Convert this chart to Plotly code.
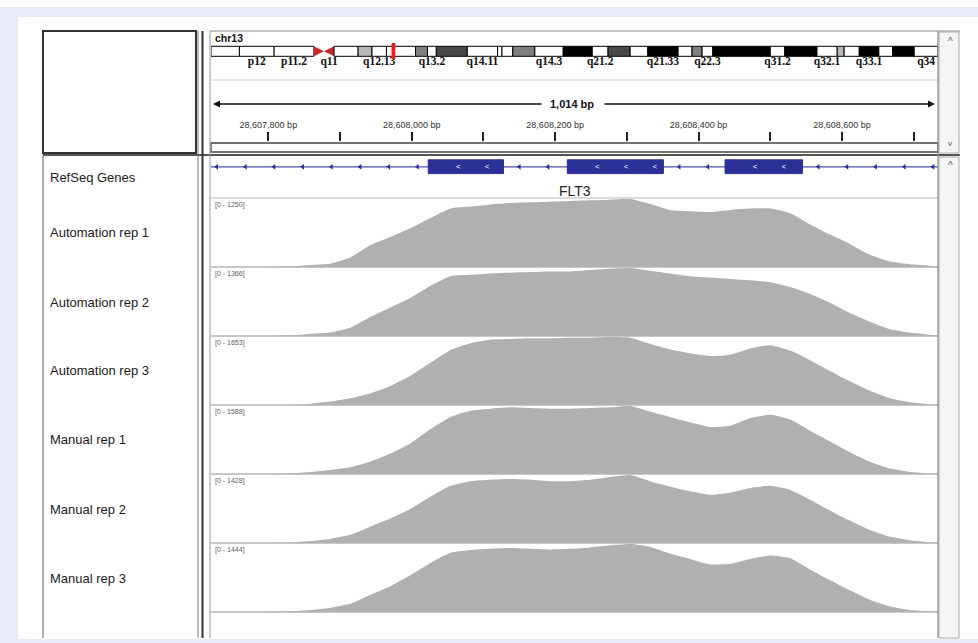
import plotly.graph_objects as go

W, H = 978, 643

# ---------------- data ----------------
chrom = "chr13"
gene_name = "FLT3"
view_start = 28607720
view_end = 28608734

band_names = ["p13", "p12", "p11.2", "p11.1", "q11", "q12.11", "q12.12", "q12.13", "q12.2", "q12.3",
              "q13.1", "q13.2", "q13.3", "q14.11", "q14.12", "q14.13", "q14.2", "q14.3", "q21.1", "q21.2",
              "q21.31", "q21.32", "q21.33", "q22.1", "q22.2", "q22.3", "q31.1", "q31.2", "q31.3", "q32.1",
              "q32.2", "q32.3", "q33.1", "q33.2", "q33.3", "q34"]
band_starts = [0.0, 4.5, 10.0, 16.3, 17.9, 19.5, 23.3, 25.5, 27.8, 28.9,
               32.4, 34.3, 35.7, 40.6, 45.4, 46.1, 47.8, 51.3, 55.8, 60.4,
               62.9, 66.4, 69.2, 74.0, 76.2, 77.8, 79.5, 88.6, 90.9, 96.0,
               99.2, 100.3, 102.7, 105.8, 108.0, 111.4]
band_ends = band_starts[1:] + [115.17]
band_stains = ["gneg", "gneg", "gneg", "acen", "acen", "gneg", "gpos25", "gneg", "gneg", "gneg",
               "gpos50", "gneg", "gpos75", "gneg", "gneg", "gneg", "gpos50", "gneg", "gpos100", "gneg",
               "gpos75", "gneg", "gpos100", "gneg", "gpos50", "gneg", "gpos100", "gneg", "gpos100", "gneg",
               "gpos25", "gneg", "gpos100", "gneg", "gpos100", "gneg"]
shown_band_labels = ["p12", "p11.2", "q11", "q12.13", "q13.2", "q14.11", "q14.3", "q21.2",
                     "q21.33", "q22.3", "q31.2", "q32.1", "q33.1", "q34"]

exon_starts = [28608023, 28608217, 28608437]
exon_ends = [28608128, 28608351, 28608545]

ruler_ticks = [28607800, 28607900, 28608000, 28608100, 28608200,
               28608300, 28608400, 28608500, 28608600, 28608700]

track_names = ["Automation rep 1", "Automation rep 2", "Automation rep 3",
               "Manual rep 1", "Manual rep 2", "Manual rep 3"]
track_max = [1250, 1366, 1653, 1588, 1428, 1444]

positions = [28607720, 28607747, 28607775, 28607803, 28607831, 28607859, 28607886, 28607914,
             28607942, 28607970, 28607998, 28608026, 28608054, 28608082, 28608110, 28608137,
             28608165, 28608193, 28608221, 28608249, 28608277, 28608305, 28608332, 28608360,
             28608388, 28608416, 28608444, 28608472, 28608500, 28608528, 28608555, 28608583,
             28608611, 28608639, 28608667, 28608695, 28608723, 28608734]

automation_rep1 = [0, 0, 0, 0, 12, 38, 62, 175, 400, 550, 712, 900, 1075, 1112, 1150, 1175,
                   1188, 1200, 1212, 1225, 1238, 1250, 1162, 1050, 1025, 1012, 1050, 1075,
                   1075, 988, 788, 600, 425, 225, 100, 50, 25, 12]
automation_rep2 = [0, 0, 0, 0, 14, 41, 68, 164, 382, 574, 765, 1011, 1202, 1229, 1257, 1270,
                   1284, 1298, 1298, 1325, 1352, 1366, 1311, 1257, 1202, 1175, 1147, 1120,
                   1079, 984, 847, 669, 464, 287, 137, 68, 27, 14]
automation_rep3 = [0, 0, 0, 0, 0, 33, 83, 165, 281, 463, 711, 1025, 1339, 1504, 1587, 1603,
                   1620, 1620, 1636, 1636, 1653, 1636, 1488, 1355, 1256, 1190, 1223, 1372,
                   1455, 1322, 1091, 827, 579, 347, 165, 66, 17, 0]
manual_rep1 = [0, 0, 0, 0, 16, 48, 95, 159, 286, 476, 715, 1048, 1334, 1477, 1524, 1556,
               1540, 1524, 1524, 1540, 1556, 1588, 1461, 1334, 1207, 1096, 1127, 1302,
               1382, 1270, 1016, 762, 508, 286, 127, 48, 16, 0]
manual_rep2 = [0, 0, 0, 0, 14, 43, 86, 171, 343, 514, 714, 971, 1200, 1299, 1328, 1342,
               1328, 1299, 1299, 1328, 1385, 1428, 1299, 1185, 1085, 1014, 1057, 1157,
               1200, 1114, 914, 685, 471, 271, 129, 57, 14, 0]
manual_rep3 = [0, 0, 0, 0, 14, 43, 87, 173, 361, 549, 780, 1040, 1256, 1314, 1343, 1357,
               1343, 1328, 1343, 1372, 1415, 1444, 1386, 1242, 1126, 1011, 1025, 1126,
               1199, 1141, 910, 679, 462, 260, 116, 43, 14, 0]
track_values = [automation_rep1, automation_rep2, automation_rep3,
                manual_rep1, manual_rep2, manual_rep3]

# ---------------- helpers ----------------
def fx(p):
    return p / W

def fy(p):
    return 1 - p / H

FONT = "Liberation Sans, Arial, sans-serif"
shapes = []
annotations = []

def rect_px(x0, y0, x1, y1, fill=None, line=None, width=1, layer="above"):
    shapes.append(dict(type="rect", xref="paper", yref="paper",
                       x0=fx(x0), x1=fx(x1), y0=fy(y1), y1=fy(y0),
                       fillcolor=fill if fill else "rgba(0,0,0,0)",
                       line=dict(color=line if line else "rgba(0,0,0,0)", width=width if line else 0),
                       layer=layer))

def line_px(x0, y0, x1, y1, color, width=1):
    shapes.append(dict(type="line", xref="paper", yref="paper",
                       x0=fx(x0), x1=fx(x1), y0=fy(y0), y1=fy(y1),
                       line=dict(color=color, width=width)))

def text_px(x, y, text, size, color="#1a1a1a", bold=False, xanchor="left", family=FONT):
    annotations.append(dict(xref="paper", yref="paper", x=fx(x), y=fy(y), text=f"<b>{text}</b>" if bold else text,
                            showarrow=False, xanchor=xanchor, yanchor="middle",
                            font=dict(size=size, color=color, family=family)))

fig = go.Figure()

# ---------------- background ----------------
rect_px(0, 7, 978, 17, fill="#e8ebf5", layer="below")
rect_px(0, 7, 18, 643, fill="#e8ebf5", layer="below")
rect_px(0, 639, 978, 643, fill="#e8ebf5", layer="below")

XL, XR = 211, 938
xdom = [fx(XL), fx(XR)]

# ---------------- coverage tracks ----------------
track_top0, track_h = 199, 69
layout_axes = {}
for i, (name, vals, vmax) in enumerate(zip(track_names, track_values, track_max)):
    yid = "y" if i == 0 else f"y{i + 1}"
    top = track_top0 + track_h * i
    bottom = top + 68
    key = "yaxis" if i == 0 else f"yaxis{i + 1}"
    layout_axes[key] = dict(domain=[fy(bottom), fy(top)], range=[0, vmax], visible=False,
                            fixedrange=True, anchor="x")
    fig.add_trace(go.Scatter(x=positions, y=vals, mode="lines",
                             line=dict(width=0, color="#b0b0b0", shape="spline", smoothing=0.5),
                             fill="tozeroy", fillcolor="#b0b0b0", xaxis="x", yaxis=yid,
                             hoverinfo="skip", showlegend=False))
    text_px(48, (top + bottom) / 2, name, 13)
    text_px(213, top + 6, f"[0 - {vmax}]", 7, color="#606060")

# track separator lines
for i in range(len(track_names) + 1):
    yy = track_top0 - 1 + track_h * i
    line_px(XL, yy, XR, yy, "#b4b4b4" if i else "#d0d0d0", 1.5)

# ---------------- gene track ----------------
GT, GB = 156, 197
layout_axes["yaxis7"] = dict(domain=[fy(GB), fy(GT)], range=[GB - GT, 0], visible=False,
                             fixedrange=True, anchor="x")
shapes.append(dict(type="line", xref="x", yref="y7", x0=view_start, x1=view_end, y0=10.8, y1=10.8,
                   line=dict(color="#4a50b2", width=1.2), layer="below"))
for s, e in zip(exon_starts, exon_ends):
    shapes.append(dict(type="rect", xref="x", yref="y7", x0=s, x1=e, y0=3.8, y1=17.6,
                       fillcolor="#2b2f96", line=dict(color="#2b2f96", width=1), layer="below"))

intron_marks = []
p = exon_starts[0] - 15
while p > view_start + 3:
    intron_marks.append(p)
    p -= 40
for e_end, n_start in zip(exon_ends[:-1], exon_starts[1:]):
    p = e_end + 22
    while p < n_start - 10:
        intron_marks.append(p)
        p += 40
p = exon_ends[-1] + 22
while p < view_end - 3:
    intron_marks.append(p)
    p += 40
exon_marks = []
for s, e in zip(exon_starts, exon_ends):
    p = s + 42
    while p < e - 10:
        exon_marks.append(p)
        p += 40

fig.add_trace(go.Scatter(x=intron_marks, y=[10.8] * len(intron_marks), mode="markers",
                         marker=dict(symbol="triangle-left", size=5, color="#2b2f96"),
                         xaxis="x", yaxis="y7", hoverinfo="skip", showlegend=False))
fig.add_trace(go.Scatter(x=exon_marks, y=[10.8] * len(exon_marks), mode="text", text=["<"] * len(exon_marks),
                         textfont=dict(size=8, color="white", family=FONT),
                         xaxis="x", yaxis="y7", hoverinfo="skip", showlegend=False))
annotations.append(dict(xref="x", yref="y7", x=(view_start + view_end) / 2, y=35, text=gene_name,
                        showarrow=False, font=dict(size=14, color="#222222", family=FONT)))
text_px(48, 178, "RefSeq Genes", 13)

# ---------------- ideogram ----------------
IT, IB = 42, 70
layout_axes["xaxis2"] = dict(domain=xdom, range=[0, band_ends[-1]], visible=False, fixedrange=True,
                             anchor="y8")
layout_axes["yaxis8"] = dict(domain=[fy(IB), fy(IT)], range=[IB - IT, 0], visible=False, fixedrange=True,
                             anchor="x2")
stain_colors = {"gneg": "#ffffff", "gpos25": "#b8b8b8", "gpos50": "#7f7f7f", "gpos75": "#484848",
                "gpos100": "#000000"}
b_top, b_bot = 4.3, 14.3
for name, s, e, st in zip(band_names, band_starts, band_ends, band_stains):
    if st == "acen":
        mid = (b_top + b_bot) / 2
        if name.startswith("p"):
            path = f"M {s},{b_top} L {s},{b_bot} L {e},{mid} Z"
        else:
            path = f"M {s},{mid} L {e},{b_top} L {e},{b_bot} Z"
        shapes.append(dict(type="path", xref="x2", yref="y8", path=path,
                           fillcolor="#c8282a", line=dict(width=0)))
    else:
        shapes.append(dict(type="rect", xref="x2", yref="y8", x0=s, x1=e, y0=b_top, y1=b_bot,
                           fillcolor=stain_colors[st], line=dict(color="#000000", width=1)))
# current locus marker
loc_mb = view_start / 1e6
shapes.append(dict(type="rect", xref="x2", yref="y8", x0=loc_mb, x1=loc_mb + 0.6, y0=1, y1=17,
                   fillcolor="#ee1c1c", line=dict(width=0)))
lab_x = [(s + e) / 2 for n, s, e in zip(band_names, band_starts, band_ends) if n in shown_band_labels]
lab_t = [n for n in band_names if n in shown_band_labels]
fig.add_trace(go.Scatter(x=lab_x, y=[19.8] * len(lab_x), mode="text", text=lab_t, cliponaxis=True,
                         textfont=dict(size=11.5, color="#111111", family="Liberation Serif, Times New Roman, serif",
                                       weight="bold"),
                         xaxis="x2", yaxis="y8", hoverinfo="skip", showlegend=False))
text_px(213, 38, chrom, 10.5, color="#111111", bold=True)

# ---------------- ruler ----------------
layout_axes["xaxis3"] = dict(domain=xdom, range=[view_start, view_end], anchor="y9", side="top",
                             showline=False, showgrid=False, zeroline=False, fixedrange=True,
                             ticks="outside", ticklen=9, tickwidth=1.5, tickcolor="#222222",
                             tickvals=ruler_ticks,
                             ticktext=[f"{t:,} bp" if (t // 100) % 2 == 0 else "" for t in ruler_ticks],
                             tickfont=dict(size=9, color="#333333", family=FONT))
layout_axes["yaxis9"] = dict(domain=[fy(152), fy(142)], range=[0, 1], visible=False, fixedrange=True,
                             anchor="x3")
fig.add_trace(go.Scatter(x=[view_start], y=[0.5], mode="markers", marker=dict(size=1, opacity=0),
                         xaxis="x3", yaxis="y9", hoverinfo="skip", showlegend=False))
span_text = f"{view_end - view_start:,} bp"
text_px(572, 104, span_text, 11, color="#111111", bold=True, xanchor="center")
annotations.append(dict(xref="paper", yref="paper", x=fx(213), y=fy(104), ax=330, ay=0, text="",
                        showarrow=True, arrowhead=2, arrowsize=1, arrowwidth=1.4, arrowcolor="#111111"))
annotations.append(dict(xref="paper", yref="paper", x=fx(935), y=fy(104), ax=-332, ay=0, text="",
                        showarrow=True, arrowhead=2, arrowsize=1, arrowwidth=1.4, arrowcolor="#111111"))

# ---------------- frame / chrome ----------------
rect_px(43, 31, 196, 153, line="#333333", width=2)            # name header box
line_px(210, 31, 960, 31, "#888888", 1.2)                     # header top
line_px(XL, 80, XR, 80, "#c9cde0", 1)                         # ideogram/ruler divider
rect_px(XL, 143, XR, 152, line="#444444", width=1.3)          # ruler bottom bar
line_px(43, 155, 960, 155, "#555555", 2)                      # header/data divider
line_px(43, 155, 43, 638, "#777777", 1.2)                     # name panel left
line_px(198, 31, 198, 638, "#777777", 1)
line_px(202.5, 31, 202.5, 638, "#333333", 2)
line_px(210, 31, 210, 638, "#999999", 1)
line_px(XR, 31, XR, 638, "#888888", 1.2)
rect_px(XR + 1, 32, 959, 153, fill="#f5f5f5", line="#aaaaaa", width=1)
rect_px(XR + 1, 157, 959, 638, fill="#f5f5f5", line="#aaaaaa", width=1)
text_px(950, 41, "^", 10, color="#555555", xanchor="center")
text_px(950, 143, "v", 8, color="#555555", xanchor="center")
text_px(950, 165, "^", 10, color="#555555", xanchor="center")

fig.update_layout(
    width=W, height=H, autosize=False,
    margin=dict(l=0, r=0, t=0, b=0),
    paper_bgcolor="#ffffff", plot_bgcolor="rgba(0,0,0,0)",
    showlegend=False,
    xaxis=dict(domain=xdom, range=[view_start, view_end], visible=False, fixedrange=True, anchor="y"),
    shapes=shapes, annotations=annotations,
    separators=".,",
    **layout_axes,
)

fig.write_html("out.html", config={"displayModeBar": False},
               post_script="document.body.style.margin='0';document.body.style.overflow='hidden';")
